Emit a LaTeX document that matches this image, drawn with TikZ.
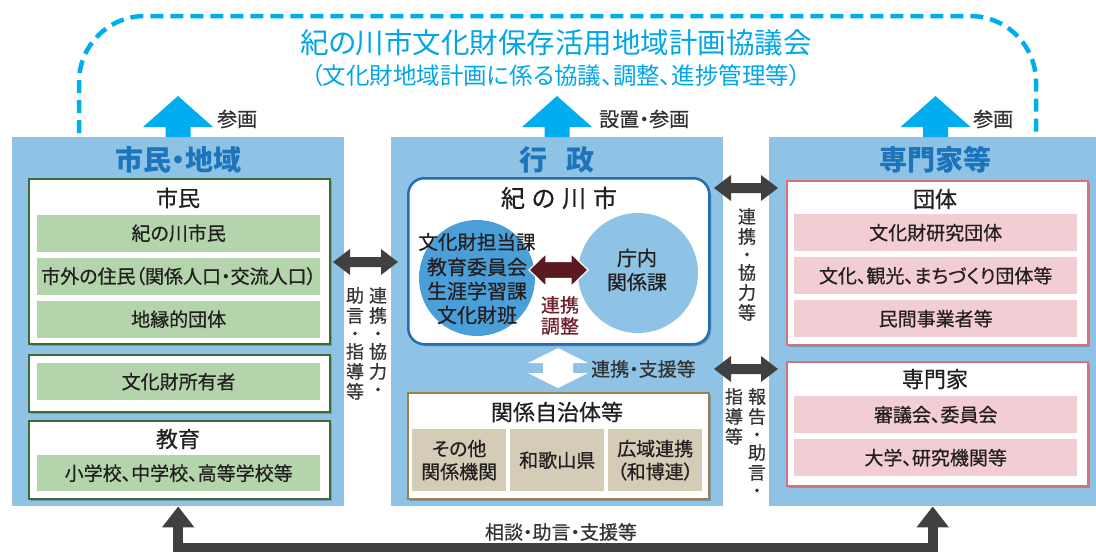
\documentclass[tikz,border=0pt]{standalone}
\usepackage{fontspec}
\setmainfont{Noto Sans CJK JP}[RawFeature=+palt]
\newfontfamily\jpmed{Noto Sans CJK JP}[RawFeature=+palt, FakeBold=0.6]
\usetikzlibrary{shadows,arrows.meta}
\definecolor{panelblue}{HTML}{8EC3E6}
\definecolor{cyanline}{HTML}{00AEEF}
\definecolor{cyantext}{HTML}{00A6E6}
\definecolor{titleblue}{HTML}{1C74BB}
\definecolor{darkarrow}{HTML}{404040}
\definecolor{maroonarrow}{HTML}{5A1A20}
\definecolor{maroontext}{HTML}{6E1F27}
\definecolor{greenitem}{HTML}{B4D5AC}
\definecolor{greenline}{HTML}{3E6B35}
\definecolor{pinkitem}{HTML}{F2CDD3}
\definecolor{pinkline}{HTML}{D7717F}
\definecolor{tanitem}{HTML}{D5CCB8}
\definecolor{brownline}{HTML}{A07E4E}
\definecolor{boxblue}{HTML}{1E6FB6}
\definecolor{circdark}{HTML}{4A9FD8}
\definecolor{txt}{HTML}{231F20}
\newcommand\fsz[2]{\fontsize{#1}{#2}\selectfont}
% horizontal double arrow: x1, x2, yc, head half, shaft half, head length, style
\newcommand\mkHarrow[7]{\fill[#7] (#1,#3) -- ({#1+#6},{#3-#4}) -- ({#1+#6},{#3-#5}) -- ({#2-#6},{#3-#5}) -- ({#2-#6},{#3-#4}) -- (#2,#3) -- ({#2-#6},{#3+#4}) -- ({#2-#6},{#3+#5}) -- ({#1+#6},{#3+#5}) -- ({#1+#6},{#3+#4}) -- cycle;}
% vertical double arrow: xc, ytop, ybottom, head half, shaft half, head length, style
\newcommand\mkVarrow[7]{\fill[#7] (#1,#2) -- ({#1+#4},{#2+#6}) -- ({#1+#5},{#2+#6}) -- ({#1+#5},{#3-#6}) -- ({#1+#4},{#3-#6}) -- (#1,#3) -- ({#1-#4},{#3-#6}) -- ({#1-#5},{#3-#6}) -- ({#1-#5},{#2+#6}) -- ({#1-#4},{#2+#6}) -- cycle;}
% up arrow: xc, ytip, ybottom, head half, shaft half, head length, style
\newcommand\mkUparrow[7]{\fill[#7] (#1,#2) -- ({#1+#4},{#2+#6}) -- ({#1+#5},{#2+#6}) -- ({#1+#5},#3) -- ({#1-#5},#3) -- ({#1-#5},{#2+#6}) -- ({#1-#4},{#2+#6}) -- cycle;}
\begin{document}
\begin{tikzpicture}[x=1pt,y=-1pt,
  every node/.style={text=txt},
  panel/.style={fill=panelblue, draw=none, inner sep=0pt, anchor=north west},
  ptitle/.style={font=\fsz{28}{28}\bfseries, text=titleblue, inner sep=0pt},
  myshadow/.style={drop shadow={shadow xshift=2pt, shadow yshift=-2pt, opacity=0.35, fill=black!70}},
  gbox/.style={draw=greenline, line width=2pt, fill=white, myshadow, anchor=north west, inner sep=0pt, minimum width=301pt},
  pbox/.style={draw=pinkline, line width=2pt, fill=white, myshadow, anchor=north west, inner sep=0pt, minimum width=301pt},
  btitle/.style={font=\jpmed\fsz{22}{22}, inner sep=0pt},
  gitem/.style={fill=greenitem, anchor=north west, inner sep=0pt, minimum width=283pt, minimum height=37pt, font=\jpmed\fsz{19}{19}},
  pitem/.style={fill=pinkitem, anchor=north west, inner sep=0pt, minimum width=283pt, minimum height=37pt, font=\jpmed\fsz{19}{19}},
  titem/.style={fill=tanitem, anchor=north west, inner sep=0pt, minimum width=94pt, minimum height=62pt, align=center, font=\jpmed\fsz{19}{23}},
  vtext/.style={anchor=north, inner sep=0pt, align=center, font=\jpmed\fsz{18}{20}, text=black!80},
  lbl/.style={font=\jpmed\fsz{20}{20}, text=black!80, inner sep=0pt}
]
\useasboundingbox (0,0) rectangle (1096,552);

% ---------- dashed council frame ----------
\coordinate (dL) at (79,133);
\coordinate (dR) at (1036,135);
\draw[cyanline, line width=4.5pt, dash pattern=on 13pt off 7pt, rounded corners=66pt] (dL) |- (1036,16) -- (dR);
\node[font=\fsz{28.5}{28.5}, text=cyantext, inner sep=0pt] (title) at (556,43) {紀の川市文化財保存活用地域計画協議会};
\node[font=\fsz{23.5}{23.5}, text=cyantext, inner sep=0pt] (subtitle) at (556,76) {（文化財地域計画に係る協議、調整、進捗管理等）};

% ---------- panels ----------
\node[panel, minimum width=332pt, minimum height=369pt] (pL) at (12,137) {};
\node[panel, minimum width=332pt, minimum height=369pt] (pM) at (391,137) {};
\node[panel, minimum width=327pt, minimum height=369pt] (pR) at (769,137) {};
\node[ptitle] (tL) at (178,160) {市民・地域};
\node[ptitle] (tM) at (557,160) {行\hspace{20pt}政};
\node[ptitle] (tR) at (935,160) {専門家等};

% ---------- up arrows ----------
\mkUparrow{178}{96}{137}{35}{12.5}{31}{cyanline}
\mkUparrow{557}{96}{137}{35}{12.5}{31}{cyanline}
\mkUparrow{935.5}{96}{137}{35}{12.5}{31}{cyanline}
\node[lbl, anchor=west] (l1) at (217,119) {参画};
\node[lbl, anchor=west] (l2) at (599,119) {設置・参画};
\node[lbl, anchor=west] (l3) at (973,119) {参画};

% ---------- left panel ----------
\node[gbox, minimum height=165pt] (bShimin) at (28,178) {};
\node[btitle] (tShimin) at (178,198) {市民};
\node[gitem] (g1) at (37,214.5) {紀の川市民};
\node[gitem] (g2) at (37,257.5) {市外の住民（関係人口・交流人口）};
\node[gitem] (g3) at (37,300.5) {地縁的団体};
\node[gbox, minimum height=57pt] (bOwner) at (28,354) {};
\node[gitem] (g4) at (37,363) {文化財所有者};
\node[gbox, minimum height=78pt] (bEdu) at (28,420) {};
\node[btitle] (tEdu) at (178,439) {教育};
\node[gitem, minimum height=36pt] (g5) at (37,455) {小学校、中学校、高等学校等};

% ---------- middle panel ----------
\node[draw=boxblue, line width=2.5pt, rounded corners=16pt, fill=white, myshadow, minimum width=301pt, minimum height=166pt, anchor=north west, inner sep=0pt] (bCity) at (407,177) {};
\node[font=\jpmed\fsz{24}{24}, inner sep=0pt] (tCity) at (559,198) {紀\hspace{7pt}の\hspace{7pt}川\hspace{7pt}市};
\node[circle, fill=circdark, minimum size=116pt, inner sep=0pt] (cL) at (477,278) {};
\node[circle, fill=panelblue, minimum size=120pt, inner sep=0pt] (cR) at (638,273) {};
\node[font=\jpmed\fsz{19.5}{19.5}, inner sep=0pt] (tTanto) at (477,242) {文化財担当課};
\node[align=center, font=\jpmed\fsz{20}{24}, inner sep=0pt] (tKyoiku) at (477,291) {教育委員会\\生涯学習課\\文化財班};
\node[align=center, font=\jpmed\fsz{20}{24}, inner sep=0pt] (tChonai) at (637,270) {庁内\\関係課};
\mkHarrow{529}{588}{270}{16.5}{8.5}{17}{maroonarrow, draw=white, line width=1.2pt}
\node[align=center, font=\jpmed\fsz{19}{21}, text=maroontext, inner sep=0pt] (tRenkei) at (560,315.5) {連携\\調整};

\mkVarrow{558}{348}{388}{30}{15}{15}{white}
\node[font=\jpmed\fsz{19}{19}, inner sep=0pt, anchor=west, text=black!80] (tShien) at (591,369) {連携・支援等};

\node[draw=brownline, line width=2pt, fill=white, myshadow, minimum width=301pt, minimum height=106pt, anchor=north west, inner sep=0pt] (bJichi) at (407,392) {};
\node[font=\jpmed\fsz{22}{22}, inner sep=0pt] (tJichi) at (557,412) {関係自治体等};
\node[titem] (t1) at (412,429) {その他\\関係機関};
\node[titem] (t2) at (510,429) {和歌山県};
\node[titem] (t3) at (608,429) {広域連携\\（和博連）};

% ---------- right panel ----------
\node[pbox, minimum height=164pt] (bDantai) at (786,180) {};
\node[btitle] (tDantai) at (935,199) {団体};
\node[pitem] (p1) at (794,214) {文化財研究団体};
\node[pitem] (p2) at (794,257) {文化、観光、まちづくり団体等};
\node[pitem] (p3) at (794,300) {民間事業者等};
\node[pbox, minimum height=124pt] (bSenmon) at (786,361) {};
\node[btitle] (tSenmon) at (935,379) {専門家};
\node[pitem] (p4) at (794,396) {審議会、委員会};
\node[pitem] (p5) at (794,439) {大学、研究機関等};

% ---------- connectors between panels ----------
\mkHarrow{333}{398}{262}{13}{5}{17}{darkarrow}
\node[vtext] (v1) at (378,287) {連\\携\\[-2pt]・\\[-2pt]協\\力\\[-2pt]・};
\node[vtext] (v2) at (355,287) {助\\言\\[-2pt]・\\[-2pt]指\\導\\等};

\mkHarrow{714}{778}{188}{13}{5}{17}{darkarrow}
\node[vtext] (v3) at (747,208) {連\\携\\[-2pt]・\\[-2pt]協\\力\\等};

\mkHarrow{714}{778}{369}{13}{5}{17}{darkarrow}
\node[vtext] (v4) at (757,388) {報\\告\\[-2pt]・\\[-2pt]助\\言\\[-2pt]・};
\node[vtext] (v5) at (734,388) {指\\導\\等};

% ---------- bottom connector ----------
\draw[darkarrow, line width=10pt, {Triangle[width=31pt,length=21pt]}-{Triangle[width=31pt,length=21pt]}] (pL.south) -- ++(0,42) -| (pR.south);
\node[font=\jpmed\fsz{19}{19}, inner sep=0pt, text=black!80] (tSodan) at (561,532) {相談・助言・支援等};
\end{tikzpicture}
\end{document}
